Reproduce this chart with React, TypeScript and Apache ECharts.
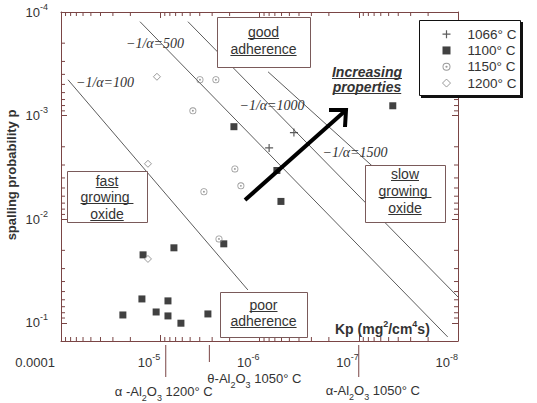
import React, { useEffect, useRef } from 'react';
import * as echarts from 'echarts';

const W = 537;
const H = 403;

const SANS = '"Liberation Sans", Arial, Helvetica, sans-serif';
const SERIF = '"Liberation Serif", "Times New Roman", serif';
const AXIS = '#7a4545';
const BOX = '#7a5a5a';
const INK = '#333333';

// Axis extents: parabolic rate constant Kp (mg²/cm⁴s) and spalling probability p
const KP_MIN = 1e-8;
const KP_MAX = 1e-4;
const P_MIN = 1e-4;
const P_MAX = 0.15;

// Test temperatures (legend entries)
const tempNames = ['1066° C', '1100° C', '1150° C', '1200° C'];

// 1066 °C
const kp1066 = [8.0e-7, 4.5e-7];
const p1066 = [2.05e-3, 1.46e-3];

// 1100 °C
const kp1100 = [1.81e-6, 4.54e-8, 6.68e-7, 6.08e-7, 2.29e-6, 1.49e-5, 7.28e-6, 2.38e-5, 1.53e-5, 1.1e-5, 8.36e-6, 8.36e-6, 6.19e-6, 3.31e-6];
const p1100 = [1.28e-3, 8.04e-4, 3.39e-3, 6.74e-3, 0.0173, 0.0221, 0.0189, 0.0841, 0.0589, 0.0787, 0.0615, 0.0859, 0.101, 0.0822];

// 1150 °C
const kp1150 = [3.98e-6, 2.75e-6, 4.69e-6, 1.77e-6, 1.54e-6, 3.63e-6, 2.56e-6];
const p1150 = [4.51e-4, 4.51e-4, 8.99e-4, 3.27e-3, 4.77e-3, 5.44e-3, 0.0155];

// 1200 °C
const kp1200 = [1.08e-5, 1.33e-5, 1.33e-5];
const p1200 = [4.22e-4, 2.92e-3, 0.0242];

// Iso-lines of constant -1/alpha (start and end points)
const alphaLabels = ['−1/α=100', '−1/α=500', '−1/α=1000', '−1/α=1500'];
const alphaKp = [
  [8.5e-5, 1.31e-6],
  [1.6e-5, 1.27e-8],
  [5.26e-6, 1e-8],
  [8.2e-7, 1.71e-8],
];
const alphaP = [
  [4.51e-4, 0.0482],
  [1.24e-4, 0.137],
  [1.24e-4, 0.0564],
  [3.78e-4, 0.0108],
];

// Oxide phase markers below the Kp axis
const phaseKp = [8.8e-6, 3.2e-6, 1e-7];
const phaseRich = [
  '{t|α -Al}{s|2}{t|O}{s|3}{t| 1200° C}',
  '{t|θ-Al}{s|2}{t|O}{s|3}{t| 1050° C}',
  '{t|α-Al}{s|2}{t|O}{s|3}{t| 1050° C}',
];

// Symbols
const PLUS = 'path://M-0.6,-4H0.6V-0.6H4V0.6H0.6V4H-0.6V0.6H-4V-0.6H-0.6Z';
const CIRCLE_DOT =
  'path://M0,-5A5,5,0,1,1,0,5A5,5,0,1,1,0,-5ZM0,-3.8A3.8,3.8,0,1,0,0,3.8A3.8,3.8,0,1,0,0,-3.8ZM0,-1.4A1.4,1.4,0,1,1,0,1.4A1.4,1.4,0,1,1,0,-1.4Z';

const tempStyles = [
  { symbol: PLUS, size: 8, itemStyle: { color: '#333', borderWidth: 0 } },
  { symbol: 'rect', size: 7, itemStyle: { color: '#111', borderWidth: 0 } },
  { symbol: CIRCLE_DOT, size: 7, itemStyle: { color: '#808080', borderWidth: 0 } },
  { symbol: 'diamond', size: 7, itemStyle: { color: '#ffffff', borderColor: '#808080', borderWidth: 1 } },
];
const tempKp = [kp1066, kp1100, kp1150, kp1200];
const tempP = [p1066, p1100, p1150, p1200];

// Minor log ticks (2..9 within each decade)
const minorKp: number[] = [];
for (let e = -8; e <= -5; e++) for (let m = 2; m <= 9; m++) minorKp.push(m * Math.pow(10, e));
const minorP: number[] = [];
for (let e = -4; e <= -2; e++) for (let m = 2; m <= 9; m++) minorP.push(m * Math.pow(10, e));

const supRich = {
  b: { fontFamily: SANS, fontSize: 13, color: INK, lineHeight: 20, verticalAlign: 'middle' },
  s: { fontFamily: SANS, fontSize: 9, color: INK, lineHeight: 10, verticalAlign: 'top' },
  z: { fontFamily: SANS, fontSize: 13, color: INK, lineHeight: 20, padding: [0, 6, 0, 0] },
};

const decadeOf = (v: number) => {
  const e = Math.round(Math.log10(v));
  return Math.abs(Math.log10(v) - e) > 1e-6 ? null : e;
};
const kpLabel = (v: number) => {
  const e = decadeOf(v);
  if (e === null) return '';
  if (e === -4) return '{z|0.0001}';
  return `{b|10}{s|${e}}`;
};
const pLabel = (v: number) => {
  const e = decadeOf(v);
  if (e === null) return '';
  return `{b|10}{s|${e}}`;
};

const tickSeries = (axis: 'x' | 'y', values: number[]) => ({
  type: 'custom',
  silent: true,
  clip: false,
  z: 3,
  data: values.map((v) => (axis === 'x' ? [v, P_MIN] : [KP_MAX, v])),
  renderItem: (_params: any, api: any) => {
    const st = { stroke: AXIS, lineWidth: 1 };
    if (axis === 'x') {
      const v = api.value(0);
      const b = api.coord([v, P_MAX]);
      const t = api.coord([v, P_MIN]);
      return {
        type: 'group',
        children: [
          { type: 'line', shape: { x1: b[0], y1: b[1], x2: b[0], y2: b[1] - 4 }, style: st },
          { type: 'line', shape: { x1: t[0], y1: t[1], x2: t[0], y2: t[1] + 4 }, style: st },
        ],
      };
    }
    const v = api.value(1);
    const l = api.coord([KP_MAX, v]);
    const r = api.coord([KP_MIN, v]);
    return {
      type: 'group',
      children: [
        { type: 'line', shape: { x1: l[0], y1: l[1], x2: l[0] + 4, y2: l[1] }, style: st },
        { type: 'line', shape: { x1: r[0], y1: r[1], x2: r[0] - 4, y2: r[1] }, style: st },
      ],
    };
  },
});

const axisCommon = {
  type: 'log',
  logBase: 10,
  axisLine: { show: true, lineStyle: { color: AXIS, width: 1 } },
  axisTick: { show: true, inside: true, length: 6, lineStyle: { color: AXIS, width: 1 } },
  splitLine: { show: false },
};

const option: any = {
  animation: false,
  backgroundColor: '#ffffff',
  grid: { left: 61, top: 12, width: 397, height: 329, containLabel: false },
  xAxis: [
    {
      ...axisCommon,
      position: 'bottom',
      min: KP_MIN,
      max: KP_MAX,
      inverse: true,
      axisLabel: { show: true, align: 'right', margin: 11, formatter: kpLabel, rich: supRich },
    },
    {
      ...axisCommon,
      position: 'top',
      min: KP_MIN,
      max: KP_MAX,
      inverse: true,
      axisLabel: { show: false },
    },
  ],
  yAxis: [
    {
      ...axisCommon,
      position: 'left',
      min: P_MIN,
      max: P_MAX,
      inverse: true,
      axisLabel: { show: true, align: 'right', margin: 13, formatter: pLabel, rich: supRich, showMaxLabel: false },
    },
    {
      ...axisCommon,
      position: 'right',
      min: P_MIN,
      max: P_MAX,
      inverse: true,
      axisLabel: { show: false },
    },
  ],
  legend: {
    orient: 'vertical',
    left: 442,
    top: 26,
    padding: 0,
    itemGap: 0,
    itemWidth: 8,
    itemHeight: 8,
    symbolKeepAspect: true,
    selectedMode: false,
    z: 20,
    textStyle: { fontFamily: SANS, fontSize: 13.5, color: INK, lineHeight: 16.3, padding: [0, 0, 0, 12] },
    data: tempNames.map((name, i) => ({
      name,
      icon: tempStyles[i].symbol,
      itemStyle: tempStyles[i].itemStyle,
    })),
  },
  series: [
    ...alphaKp.map((ks, i) => ({
      type: 'line',
      name: alphaLabels[i],
      data: ks.map((k, j) => [k, alphaP[i][j]]),
      symbol: 'none',
      showSymbol: false,
      silent: true,
      clip: true,
      z: 2,
      lineStyle: { color: '#5c5c5c', width: 1 },
    })),
    ...tempNames.map((name, i) => ({
      type: 'scatter',
      name,
      data: tempKp[i].map((k, j) => [k, tempP[i][j]]),
      symbol: tempStyles[i].symbol,
      symbolSize: tempStyles[i].size,
      itemStyle: tempStyles[i].itemStyle,
      silent: true,
      z: 5,
    })),
    tickSeries('x', minorKp),
    tickSeries('y', minorP),
  ],
};

// Annotation boxes inside the plot
const boxes = [
  { x: 217, y: 17, w: 93, h: 50, lines: ['good', 'adherence'], ys: [32, 49] },
  { x: 67, y: 171, w: 80, h: 51, lines: ['fast', 'growing ', 'oxide'], ys: [181, 197, 214] },
  { x: 365, y: 165, w: 80, h: 57, lines: ['slow', 'growing ', 'oxide'], ys: [174, 191, 208] },
  { x: 220, y: 292, w: 87, h: 45, lines: ['poor', 'adherence'], ys: [305, 321] },
];

const alphaLabelPos = [
  [105, 82],
  [155, 43],
  [272, 105],
  [355, 152],
];

function buildGraphic(phaseX: number[]) {
  const ctx = document.createElement('canvas').getContext('2d') as CanvasRenderingContext2D;
  const measure = (t: string, font: string) => {
    ctx.font = font;
    return ctx.measureText(t).width;
  };
  const els: any[] = [];

  boxes.forEach((b) => {
    els.push({
      type: 'rect',
      z: 10,
      shape: { x: b.x + 0.5, y: b.y + 0.5, width: b.w, height: b.h },
      style: { fill: '#ffffff', stroke: BOX, lineWidth: 1 },
    });
    const cx = b.x + b.w / 2;
    b.lines.forEach((t, i) => {
      const y = b.ys[i];
      els.push({
        type: 'text',
        z: 11,
        x: cx,
        y,
        style: { text: t, fontFamily: SANS, fontSize: 14, fill: INK, align: 'center', verticalAlign: 'middle' },
      });
      const w = measure(t, `14px ${SANS}`);
      els.push({
        type: 'line',
        z: 11,
        shape: { x1: cx - w / 2, y1: y + 6.5, x2: cx + w / 2, y2: y + 6.5 },
        style: { stroke: INK, lineWidth: 1 },
      });
    });
  });

  // Iso-line labels
  alphaLabels.forEach((t, i) => {
    els.push({
      type: 'text',
      z: 11,
      x: alphaLabelPos[i][0],
      y: alphaLabelPos[i][1],
      style: {
        text: t,
        fontFamily: SERIF,
        fontStyle: 'italic',
        fontSize: 14,
        fill: INK,
        align: 'center',
        verticalAlign: 'middle',
      },
    });
  });

  // Direction arrow
  els.push({
    type: 'polyline',
    z: 12,
    shape: { points: [[245, 200], [345, 111]] },
    style: { stroke: '#000', lineWidth: 4, lineCap: 'butt' },
  });
  els.push({
    type: 'polyline',
    z: 12,
    shape: { points: [[329, 110], [346, 110], [345, 127]] },
    style: { stroke: '#000', lineWidth: 4, lineJoin: 'miter', fill: null },
  });

  ['Increasing', 'properties'].forEach((t, i) => {
    const y = [72, 87][i];
    const cx = 367;
    els.push({
      type: 'text',
      z: 11,
      x: cx,
      y,
      style: {
        text: t,
        fontFamily: SANS,
        fontSize: 14,
        fontWeight: 'bold',
        fontStyle: 'italic',
        fill: INK,
        align: 'center',
        verticalAlign: 'middle',
      },
    });
    const w = measure(t, `italic bold 14px ${SANS}`);
    els.push({
      type: 'line',
      z: 11,
      shape: { x1: cx - w / 2, y1: y + 6.5, x2: cx + w / 2, y2: y + 6.5 },
      style: { stroke: INK, lineWidth: 1.2 },
    });
  });

  // Legend frame with drop shadow
  els.push({
    type: 'rect',
    z: 15,
    shape: { x: 421, y: 22, width: 102, height: 76 },
    style: { fill: '#111' },
  });
  els.push({
    type: 'rect',
    z: 15,
    shape: { x: 419.5, y: 20.5, width: 101, height: 75 },
    style: { fill: '#ffffff', stroke: '#111', lineWidth: 1 },
  });

  // Axis titles
  els.push({
    type: 'text',
    z: 11,
    x: 11,
    y: 175,
    rotation: Math.PI / 2,
    style: {
      text: 'spalling probability p',
      fontFamily: SANS,
      fontSize: 13,
      fontWeight: 'bold',
      fill: INK,
      align: 'center',
      verticalAlign: 'middle',
    },
  });
  els.push({
    type: 'text',
    z: 11,
    x: 335,
    y: 329,
    style: {
      text: '{b|Kp (mg}{s|2}{b|/cm}{s|4}{b|s)}',
      align: 'left',
      verticalAlign: 'middle',
      rich: {
        b: { fontFamily: SANS, fontSize: 14, fontWeight: 'bold', fill: INK, lineHeight: 20, verticalAlign: 'middle' },
        s: { fontFamily: SANS, fontSize: 9, fontWeight: 'bold', fill: INK, lineHeight: 10, verticalAlign: 'top' },
      },
    },
  });

  // Oxide phase markers
  const lineEnds = [377, 362, 377];
  const labelPos = [
    { dx: -2, y: 391, align: 'center' },
    { dx: -2, y: 378, align: 'left' },
    { dx: 14, y: 390, align: 'center' },
  ];
  phaseX.forEach((px, i) => {
    els.push({
      type: 'line',
      z: 11,
      shape: { x1: px, y1: 345, x2: px, y2: lineEnds[i] },
      style: { stroke: AXIS, lineWidth: 1 },
    });
    els.push({
      type: 'text',
      z: 11,
      x: px + labelPos[i].dx,
      y: labelPos[i].y,
      style: {
        text: phaseRich[i],
        align: labelPos[i].align,
        verticalAlign: 'middle',
        rich: {
          t: { fontFamily: SANS, fontSize: 13, fill: INK, lineHeight: 22, verticalAlign: 'middle' },
          s: { fontFamily: SANS, fontSize: 9, fill: INK, lineHeight: 10, verticalAlign: 'bottom' },
        },
      },
    });
  });

  return els;
}

export default function App() {
  const ref = useRef<HTMLDivElement>(null);
  useEffect(() => {
    if (!ref.current) return;
    const chart = echarts.init(ref.current, null, { renderer: 'svg' });
    chart.setOption(option);
    const phaseX = phaseKp.map((v) => Number(chart.convertToPixel({ xAxisIndex: 0 }, v)));
    chart.setOption({ graphic: buildGraphic(phaseX) });
    return () => chart.dispose();
  }, []);
  return (
    <div
      ref={ref}
      style={{ position: 'fixed', left: 0, top: 0, width: W, height: H, background: '#ffffff' }}
    />
  );
}
